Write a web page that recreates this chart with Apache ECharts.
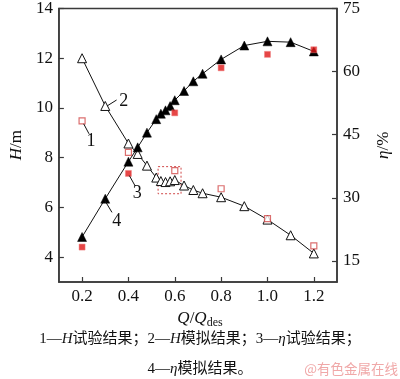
<!DOCTYPE html>
<html><head><meta charset="utf-8">
<script src="https://cdn.jsdelivr.net/npm/echarts@6/dist/echarts.min.js"></script>
<style>html,body{margin:0;padding:0;background:#fff}#c{width:400px;height:379px}</style>
</head><body><div id="c"></div>
<script>
// Flow ratio Q/Qdes
const hSimX = [0.2,0.3,0.4,0.44,0.48,0.52,0.54,0.56,0.58,0.60,0.64,0.68,0.72,0.8,0.9,1.0,1.1,1.2];
const hSimY = [12.0,10.08,8.57,8.15,7.68,7.2,7.06,7.02,7.05,7.1,6.88,6.7,6.57,6.41,6.05,5.51,4.88,4.15];
const hTestX = [0.2,0.4,0.6,0.8,1.0,1.2];
const hTestY = [9.48,8.21,7.48,6.75,5.55,4.45];
const etaSimX = [0.2,0.3,0.4,0.44,0.48,0.52,0.54,0.56,0.58,0.60,0.64,0.68,0.72,0.8,0.9,1.0,1.1,1.2];
const etaSimY = [20.7,29.8,38.6,42.0,45.5,48.7,50.0,50.8,51.8,53.2,55.4,57.7,59.5,62.9,66.2,67.2,67.0,64.8];
const etaTestX = [0.2,0.4,0.6,0.8,1.0,1.2];
const etaTestY = [18.3,35.8,50.2,60.9,64.1,65.2];
const xTicks = [0.2,0.4,0.6,0.8,1.0,1.2];
const hTicks = [4,6,8,10,12,14];
const etaTicks = [15,30,45,60,75];
const captionLine1 = '1—{i|H}试验结果；2—{i|H}模拟结果；3—{i|η}试验结果；';
const captionLine2 = '4—{i|η}模拟结果。';
const watermark = '@有色金属在线';

const zip = (xs, ys) => xs.map((x, i) => [x, ys[i]]);
const serif = 'Liberation Serif';
const axisCol = '#3a3a3a';
const chart = echarts.init(document.getElementById('c'), null, {renderer: 'canvas'});

function valueAxis(extra) {
  return Object.assign({
    type: 'value',
    axisLine: {show: true, lineStyle: {color: axisCol, width: 1.5}},
    splitLine: {show: false}
  }, extra);
}
const tick = vals => ({show: true, inside: true, length: 5, customValues: vals, lineStyle: {color: axisCol, width: 1.2}});
const lab = (vals, fmt) => ({color: '#111', fontFamily: serif, fontSize: 17, margin: 6, customValues: vals, formatter: fmt});

const leader = (a, b) => [{coord: a}, {coord: b}];
const lbl = (txt, c) => ({coord: c, value: txt});

chart.setOption({
  animation: false,
  backgroundColor: '#fff',
  grid: {left: 50, right: 47, top: 7, bottom: 97, show: true, borderColor: axisCol, borderWidth: 1.5, backgroundColor: 'transparent'},
  xAxis: valueAxis({
    min: 0.1, max: 1.3,
    axisTick: tick(xTicks),
    axisLabel: lab(xTicks, v => v.toFixed(1))
  }),
  yAxis: [
    valueAxis({
      min: 3, max: 14, position: 'left',
      axisTick: tick(hTicks),
      axisLabel: lab(hTicks),
      name: '{i|H}/m', nameLocation: 'middle', nameRotate: 90, nameGap: 31,
      nameTextStyle: {fontFamily: serif, fontSize: 17, color: '#111',
        rich: {i: {fontFamily: serif, fontStyle: 'italic', fontSize: 17, color: '#111'}}}
    }),
    valueAxis({
      min: 10, max: 75, position: 'right',
      axisTick: tick(etaTicks),
      axisLabel: lab(etaTicks),
      name: '{i|η}/%', nameLocation: 'middle', nameRotate: 90, nameGap: 38,
      nameTextStyle: {fontFamily: serif, fontSize: 17, color: '#111',
        rich: {i: {fontFamily: serif, fontStyle: 'italic', fontSize: 17, color: '#111'}}}
    })
  ],
  series: [
    {
      name: 'H模拟结果', type: 'line', yAxisIndex: 0, data: zip(hSimX, hSimY),
      symbol: 'triangle', symbolSize: 9, showAllSymbol: true,
      lineStyle: {color: '#111', width: 1},
      itemStyle: {color: '#fff', borderColor: '#111', borderWidth: 1},
      z: 3,
      markArea: {
        silent: true,
        itemStyle: {color: 'rgba(0,0,0,0)', borderColor: '#d04848', borderWidth: 1, borderType: [2, 2]},
        data: [[{coord: [0.528, 7.64]}, {coord: [0.627, 6.55]}]]
      },
      markLine: {
        silent: true, symbol: ['none', 'none'], label: {show: false},
        lineStyle: {color: '#111', width: 1, type: 'solid'},
        data: [
          leader([0.207, 9.36], [0.230, 8.96]),
          leader([0.308, 10.08], [0.349, 10.32]),
          leader([0.404, 7.28], [0.428, 6.88]),
          leader([0.298, 6.28], [0.329, 5.80])
        ]
      },
      markPoint: {
        silent: true, symbol: 'circle', symbolSize: 0,
        label: {show: true, formatter: p => p.value, fontFamily: serif, fontSize: 18, color: '#111', position: 'inside'},
        data: [
          lbl('1', [0.238, 8.66]),
          lbl('2', [0.380, 10.28]),
          lbl('3', [0.438, 6.56]),
          lbl('4', [0.350, 5.46])
        ]
      }
    },
    {
      name: 'H试验结果', type: 'scatter', yAxisIndex: 0, data: zip(hTestX, hTestY),
      symbol: 'rect', symbolSize: 6,
      itemStyle: {color: '#fff', borderColor: '#d24a4a', borderWidth: 1.2},
      z: 4
    },
    {
      name: 'η模拟结果', type: 'line', yAxisIndex: 1, data: zip(etaSimX, etaSimY),
      symbol: 'triangle', symbolSize: 9, showAllSymbol: true,
      lineStyle: {color: '#111', width: 1},
      itemStyle: {color: '#000', borderColor: '#000', borderWidth: 0.5},
      z: 3
    },
    {
      name: 'η试验结果', type: 'scatter', yAxisIndex: 1, data: zip(etaTestX, etaTestY),
      symbol: 'rect', symbolSize: 6,
      itemStyle: {color: '#e01818', borderColor: '#f08080', borderWidth: 0.6},
      z: 4
    }
  ],
  graphic: [
    {type: 'text', left: 'center', top: 310, style: {text: '{i|Q}/{i|Q}{s|des}', fontFamily: serif, fontSize: 17, fill: '#111',
      rich: {i: {fontFamily: serif, fontStyle: 'italic', fontSize: 17, fill: '#111'},
             s: {fontFamily: serif, fontSize: 12, fill: '#111', padding: [9, 0, 0, 0]}}}},
    {type: 'text', left: 'center', top: 332, style: {text: captionLine1, fontFamily: serif + ', Noto Sans CJK SC', fontSize: 15, fill: '#111',
      rich: {i: {fontFamily: serif, fontStyle: 'italic', fontSize: 15, fill: '#111'}}}},
    {type: 'text', left: 'center', top: 362, style: {text: captionLine2, fontFamily: serif + ', Noto Sans CJK SC', fontSize: 15, fill: '#111',
      rich: {i: {fontFamily: serif, fontStyle: 'italic', fontSize: 15, fill: '#111'}}}},
    {type: 'text', right: 2, top: 362, style: {text: watermark, fontFamily: 'Noto Sans CJK SC', fontSize: 13.5, fill: '#f0a8a8'}}
  ]
});
</script>
</body></html>
